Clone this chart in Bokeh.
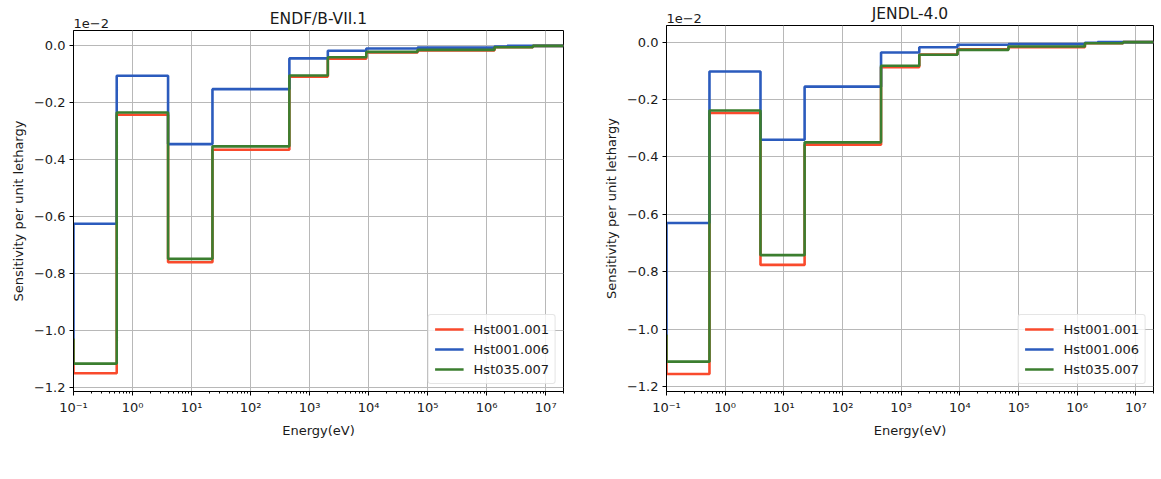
from bokeh.plotting import figure
from bokeh.layouts import row
from bokeh.models import FixedTicker, CustomJSTickFormatter, Range1d, LogAxis, Legend
from bokeh.embed import file_html
from bokeh.resources import INLINE

# Energy group boundaries (eV); the first group below 0.1 eV lies outside the view
energy_edges = [0.1, 0.54, 4.0, 22.6, 454.0, 2035.0, 9119.0, 67379.0, 1.353e6, 2.231e6, 6.065e6, 2.0e7]
thermal_edge = 0.05

series_names = ["Hst001.001", "Hst001.006", "Hst035.007"]
series_colors = ["#f94a2c", "#2b5bbd", "#3b7e2f"]

# Sensitivity per unit lethargy (x 1e-2), one value per group
endf_thermal = -1.03
endf_hst001_001 = [-1.150, -0.242, -0.760, -0.365, -0.108, -0.045, -0.023, -0.016, -0.005, -0.005, 0.0]
endf_hst001_006 = [-0.625, -0.105, -0.345, -0.152, -0.044, -0.017, -0.009, -0.006, -0.002, 0.0, 0.0]
endf_hst035_007 = [-1.116, -0.234, -0.748, -0.353, -0.104, -0.040, -0.021, -0.014, -0.005, -0.005, 0.0]

jendl_thermal = -1.02
jendl_hst001_001 = [-1.156, -0.247, -0.776, -0.357, -0.087, -0.043, -0.025, -0.018, -0.004, -0.004, 0.0]
jendl_hst001_006 = [-0.630, -0.102, -0.340, -0.155, -0.036, -0.018, -0.009, -0.007, -0.002, 0.0, 0.0]
jendl_hst035_007 = [-1.113, -0.238, -0.742, -0.349, -0.082, -0.044, -0.027, -0.015, -0.004, -0.004, 0.0]

y_ticks = [-1.2, -1.0, -0.8, -0.6, -0.4, -0.2, 0.0]
x_decades = list(range(-1, 8))
scale_note = "1e\u22122"

FONT = "DejaVu Sans"

x_major = [10.0 ** d for d in x_decades]
x_minor = [k * 10.0 ** d for d in x_decades[:-1] for k in range(2, 10)] + [2e7]

x_fmt = CustomJSTickFormatter(code="""
const sup = {'-':'\u207b','0':'\u2070','1':'\u00b9','2':'\u00b2','3':'\u00b3',
             '4':'\u2074','5':'\u2075','6':'\u2076','7':'\u2077','8':'\u2078','9':'\u2079'};
const e = Math.round(Math.log10(tick));
return '10' + String(e).split('').map(c => sup[c]).join('');
""")
y_fmt = CustomJSTickFormatter(code="""
const s = Math.abs(tick) < 1e-9 ? '0.0' : tick.toFixed(1);
return s.replace('-', '\u2212');
""")


def panel(title, thermal, values, y_lo, y_hi, width, height, b_left, b_right, b_top, b_bottom, shift_down):
    p = figure(width=width, height=height, x_axis_type="log", title=None,
               x_range=Range1d(0.1, 2.0e7), y_range=Range1d(y_lo, y_hi),
               output_backend="svg", toolbar_location=None,
               min_border_left=b_left, min_border_right=b_right,
               min_border_top=b_top, min_border_bottom=b_bottom)
    p.margin = (shift_down, 0, 0, 0)
    p.background_fill_color = "white"
    p.border_fill_color = "white"
    p.outline_line_color = "black"
    p.outline_line_width = 1

    xt = FixedTicker(ticks=x_major, minor_ticks=x_minor)
    p.xaxis.ticker = xt
    p.xgrid.ticker = xt
    p.xaxis.formatter = x_fmt
    yt = FixedTicker(ticks=y_ticks, minor_ticks=[])
    p.yaxis.ticker = yt
    p.ygrid.ticker = yt
    p.yaxis.formatter = y_fmt

    for ax in (p.xaxis, p.yaxis):
        ax.major_label_text_font = FONT
        ax.major_label_text_font_size = "13px"
        ax.major_label_text_color = "#1a1a1a"
        ax.axis_label_text_font = FONT
        ax.axis_label_text_font_size = "13px"
        ax.axis_label_text_font_style = "normal"
        ax.axis_label_text_color = "#1a1a1a"
        ax.major_tick_in = 0
        ax.major_tick_out = 4
        ax.minor_tick_in = 0
        ax.minor_tick_out = 2
        ax.axis_line_color = "black"
        ax.major_tick_line_color = "black"
        ax.minor_tick_line_color = "black"
        ax.major_label_standoff = 4
        ax.axis_label_standoff = 5
    p.xaxis.axis_label = "Energy(eV)"
    p.yaxis.axis_label = "Sensitivity per unit lethargy"

    # top strip: scale note flush with the frame's left edge, panel title centred above
    top_axis = LogAxis(ticker=FixedTicker(ticks=[0.2], minor_ticks=[]),
                       formatter=CustomJSTickFormatter(code="return '%s';" % scale_note),
                       axis_line_color=None, major_tick_line_color=None, minor_tick_line_color=None,
                       major_tick_out=0, major_tick_in=0, minor_tick_out=0, minor_tick_in=0,
                       major_label_standoff=3,
                       major_label_text_font=FONT, major_label_text_font_size="13px",
                       major_label_text_color="#1a1a1a",
                       axis_label=title, axis_label_standoff=-12,
                       axis_label_text_font=FONT, axis_label_text_font_size="15.5px",
                       axis_label_text_font_style="normal", axis_label_text_color="#1a1a1a")
    p.add_layout(top_axis, "above")

    for g in (p.xgrid, p.ygrid):
        g.grid_line_color = "#b8b8b8"
        g.grid_line_width = 1

    xs = [thermal_edge] + energy_edges
    for name, color, vals in zip(series_names, series_colors, values):
        ys = [thermal] + list(vals) + [vals[-1]]
        p.step(xs, ys, mode="after", line_color=color, line_width=2.6, legend_label=name)

    lg = p.legend[0]
    lg.location = "bottom_right"
    lg.label_text_font = FONT
    lg.label_text_font_size = "13px"
    lg.label_text_color = "#1a1a1a"
    lg.glyph_width = 29
    lg.glyph_height = 16
    lg.label_height = 16
    lg.label_standoff = 10
    lg.spacing = 4
    lg.padding = 6
    lg.margin = 7
    lg.border_line_color = "#cccccc"
    lg.border_line_width = 1
    lg.background_fill_alpha = 0.8
    if "border_radius" in Legend.properties():
        lg.border_radius = 3
    return p


# both panels share a 25 px top border; the left one sits 5 px lower on the page
p_left = panel("ENDF/B-VII.1", endf_thermal,
               [endf_hst001_001, endf_hst001_006, endf_hst035_007],
               -1.214, 0.054, 600, 474, 73, 37, 25, 82, 5)
p_right = panel("JENDL-4.0", jendl_thermal,
                [jendl_hst001_001, jendl_hst001_006, jendl_hst035_007],
                -1.217, 0.058, 561, 479, 64, 8, 25, 88, 0)

layout = row(p_left, p_right)
open("out.html", "w").write(file_html(layout, INLINE))
